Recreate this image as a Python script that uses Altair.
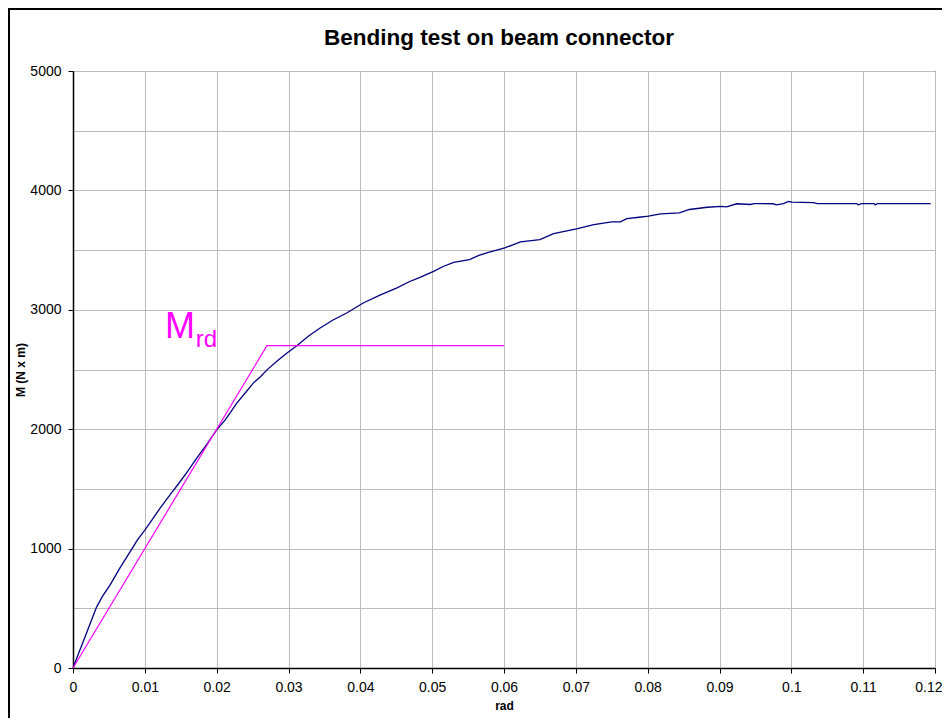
import altair as alt
import pandas as pd

# Measured curve (rotation in rad, moment in N x m)
curve_rad = [0, 0.0008, 0.00167, 0.0025, 0.0033, 0.0041, 0.00515, 0.0065, 0.00794, 0.009,
             0.01, 0.011, 0.0121, 0.0135, 0.0149, 0.016, 0.0172, 0.0186, 0.02, 0.0212,
             0.0228, 0.024, 0.0251, 0.0261, 0.0270, 0.0285, 0.0298, 0.0312, 0.0328, 0.0344,
             0.0362, 0.0381, 0.0404, 0.0428, 0.0451, 0.0468, 0.0483, 0.0502, 0.0516, 0.0530,
             0.0552, 0.0565, 0.0576, 0.0601, 0.0623, 0.0650, 0.0669, 0.0701, 0.0725, 0.0750,
             0.0762, 0.0771, 0.0788, 0.0801, 0.0818, 0.0844, 0.0858, 0.0883, 0.0902, 0.0910,
             0.0924, 0.0943, 0.0948, 0.0975, 0.0979, 0.0989, 0.0996, 0.1001, 0.1031, 0.1036,
             0.1091, 0.1093, 0.1098, 0.1115, 0.1117, 0.1120, 0.1194]
curve_moment = [0, 125, 260, 390, 512, 600, 694, 835, 973, 1075,
                1155, 1240, 1337, 1450, 1560, 1650, 1756, 1870, 1994, 2078,
                2218, 2305, 2386, 2440, 2497, 2575, 2638, 2701, 2780, 2847,
                2915, 2973, 3057, 3125, 3183, 3235, 3272, 3322, 3365, 3398,
                3420, 3455, 3477, 3518, 3569, 3588, 3638, 3678, 3714, 3736,
                3736, 3764, 3775, 3784, 3804, 3812, 3840, 3859, 3867, 3862,
                3888, 3882, 3890, 3888, 3879, 3890, 3907, 3901, 3898, 3890,
                3890, 3879, 3890, 3890, 3879, 3890, 3890]

# Design line M_rd
mrd_rad = [0, 0.027, 0.06]
mrd_moment = [0, 2700, 2700]

x_grid_values = [round(i * 0.005, 3) for i in range(25)]
y_grid_values = [i * 500 for i in range(11)]

TITLE = "Bending test on beam connector"
FONT = "Liberation Sans"

curve_df = pd.DataFrame({"rad": curve_rad, "M": curve_moment, "i": range(len(curve_rad))})
mrd_df = pd.DataFrame({"rad": mrd_rad, "M": mrd_moment, "i": range(len(mrd_rad))})

x_scale = alt.Scale(domain=[0, 0.12], nice=False, zero=True)
y_scale = alt.Scale(domain=[0, 5000], nice=False, zero=True)

x_axis = alt.Axis(
    values=x_grid_values,
    title="rad",
    labelExpr="round(datum.value*1000) % 10 == 0 ? format(datum.value, '~g') : ''",
    labelOverlap=False,
    labelFlush=False,
    labelAlign={"condition": {"test": "datum.value > 0.119", "value": "right"}, "value": "center"},
    labelOffset={"condition": {"test": "datum.value > 0.119", "value": 7}, "value": 0},
    tickOpacity={"condition": {"test": "round(datum.value*1000) % 10 == 0", "value": 1}, "value": 0},
    tickSize=5,
    labelPadding=7,
    titlePadding=6,
)
y_axis = alt.Axis(
    values=y_grid_values,
    title="M (N x m)",
    labelExpr="datum.value % 1000 == 0 ? format(datum.value, 'd') : ''",
    labelOverlap=False,
    labelFlush=False,
    tickOpacity={"condition": {"test": "datum.value % 1000 == 0", "value": 1}, "value": 0},
    tickSize=5,
    labelPadding=7,
    titlePadding=2,
)

curve = alt.Chart(curve_df).mark_line(color="#000080", strokeWidth=1.3).encode(
    x=alt.X("rad:Q", scale=x_scale, axis=x_axis),
    y=alt.Y("M:Q", scale=y_scale, axis=y_axis),
    order="i:Q",
)

mrd = alt.Chart(mrd_df).mark_line(color="#FF00FF", strokeWidth=1.2).encode(
    x=alt.X("rad:Q", scale=x_scale),
    y=alt.Y("M:Q", scale=y_scale),
    order="i:Q",
)

one = pd.DataFrame({"a": [0]})

label_m = alt.Chart(one).mark_text(
    text="M", color="#FF00FF", font=FONT, fontSize=36, align="left", baseline="alphabetic"
).encode(x=alt.datum(0.0128), y=alt.datum(2760))

label_rd = alt.Chart(one).mark_text(
    text="rd", color="#FF00FF", font=FONT, fontSize=24, align="left", baseline="alphabetic"
).encode(x=alt.datum(0.0171), y=alt.datum(2690))

title_mark = alt.Chart(one).mark_text(
    text=TITLE, color="black", font=FONT, fontSize=22.5, fontWeight="bold",
    align="center", baseline="alphabetic", clip=False
).encode(x=alt.value(426), y=alt.value(-26))

frame = alt.Chart(one).mark_rect(filled=False, stroke="black", strokeWidth=2, clip=False).encode(
    x=alt.value(-64), x2=alt.value(1000), y=alt.value(-62), y2=alt.value(800)
)

chart = alt.layer(curve, mrd, label_m, label_rd, title_mark, frame).properties(
    width=862,
    height=597,
    background="white",
    autosize=alt.AutoSizeParams(type="none"),
    padding={"left": 65, "top": 63, "right": 7, "bottom": 50},
).configure_view(
    stroke="black", strokeWidth=1
).configure_axis(
    grid=True,
    gridColor="#bcbcbc",
    gridWidth=1,
    domainColor="black",
    domainWidth=1.5,
    tickColor="black",
    labelFont=FONT,
    labelFontSize=14,
    labelColor="black",
    titleFont=FONT,
    titleFontSize=12,
    titleFontWeight="bold",
    titleColor="black",
)

chart.save("out.html", embed_options={"renderer": "svg", "actions": False})
